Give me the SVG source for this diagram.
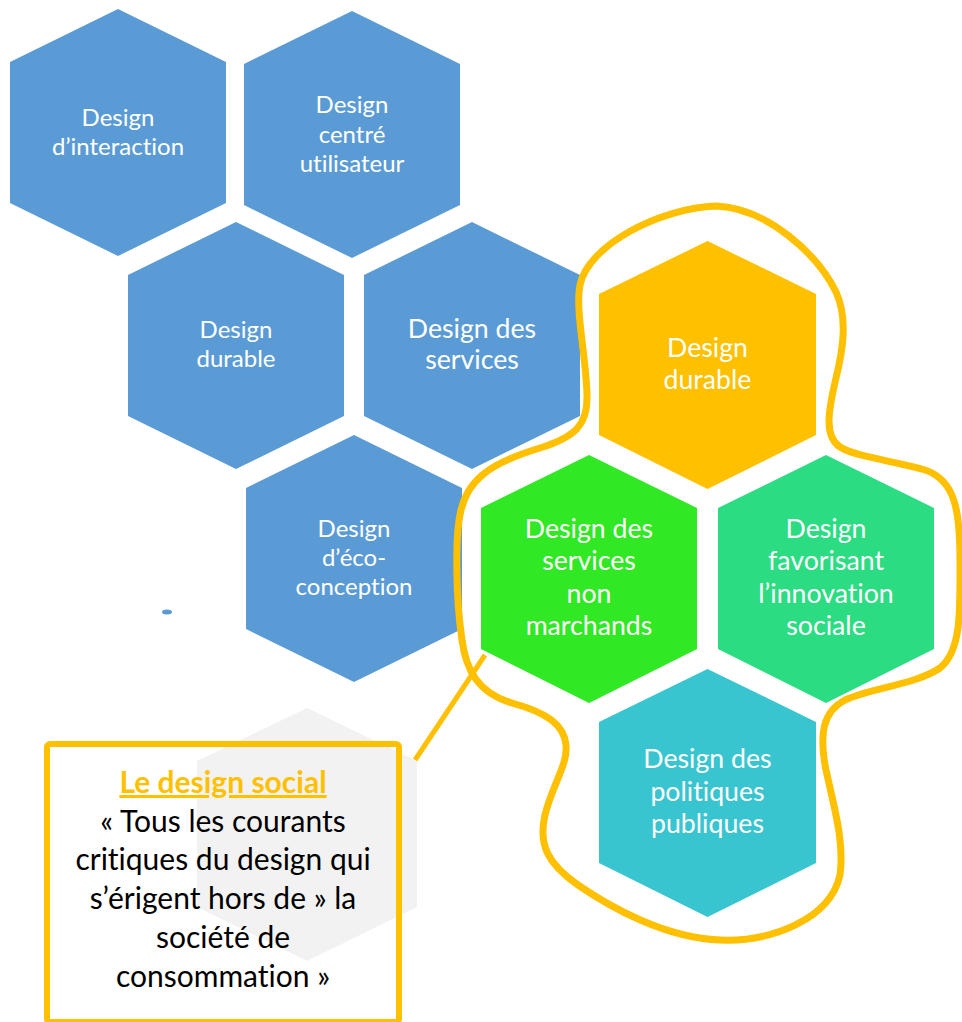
<svg xmlns="http://www.w3.org/2000/svg" width="962" height="1022" viewBox="0 0 962 1022">
<style>
.hb{fill:#5B9BD5}
text{font-variant-ligatures:none;font-feature-settings:"liga" 0,"clig" 0}
.t{font-family:Lato,"Liberation Sans",sans-serif;fill:#ffffff;text-anchor:middle}
.s{font-size:24px}
.l{font-size:26.7px}
.bx{font-family:Lato,"Liberation Sans",sans-serif;font-size:30px;fill:#000000;text-anchor:middle}
</style>
<rect width="962" height="1022" fill="#ffffff"/>
<g id="n-interaction">
<polygon class="hb" points="118,9 226,62 226,203 118,256 10,203 10,62"/>
<text class="t s" x="118" y="126">Design</text>
<text class="t s" x="118" y="155">d’interaction</text>
</g>
<g id="n-utilisateur">
<polygon class="hb" points="352,11 460,64 460,205 352,258 244,205 244,64"/>
<text class="t s" x="352" y="113">Design</text>
<text class="t s" x="352" y="143">centré</text>
<text class="t s" x="352" y="172">utilisateur</text>
</g>
<g id="n-durable-blue">
<polygon class="hb" points="236,222 344,275 344,416 236,469 128,416 128,275"/>
<text class="t s" x="236" y="338">Design</text>
<text class="t s" x="236" y="367">durable</text>
</g>
<g id="n-services">
<polygon class="hb" points="472,222 580,275 580,416 472,469 364,416 364,275"/>
<text class="t l" x="472" y="338">Design des</text>
<text class="t l" x="472" y="369">services</text>
</g>
<g id="n-eco">
<polygon class="hb" points="354,435 462,488 462,629 354,682 246,629 246,488"/>
<text class="t s" x="354" y="537">Design</text>
<text class="t s" x="354" y="566">d’éco-</text>
<text class="t s" x="354" y="595">conception</text>
</g>
<ellipse id="dot" cx="167" cy="612" rx="5" ry="2.5" fill="#5B9BD5"/>
<g id="n-durable-orange">
<polygon fill="#FFC000" points="707.5,241 816,294 816,435 707.5,489 599,435 599,294"/>
<text class="t l" x="707.5" y="357">Design</text>
<text class="t l" x="707.5" y="389">durable</text>
</g>
<g id="n-non-marchands">
<polygon fill="#30E823" points="589,455 697,508 697,649 589,703 481,649 481,508"/>
<text class="t l" x="589" y="538">Design des</text>
<text class="t l" x="589" y="570">services</text>
<text class="t l" x="589" y="603">non</text>
<text class="t l" x="589" y="635">marchands</text>
</g>
<g id="n-innovation">
<polygon fill="#2BDC82" points="826,455 934,508 934,649 826,703 718,649 718,508"/>
<text class="t l" x="826" y="538">Design</text>
<text class="t l" x="826" y="570">favorisant</text>
<text class="t l" x="826" y="603">l’innovation</text>
<text class="t l" x="826" y="635">sociale</text>
</g>
<g id="n-politiques">
<polygon fill="#39C5CF" points="707.5,669 816,722 816,863 707.5,917 599,863 599,722"/>
<text class="t l" x="707.5" y="768">Design des</text>
<text class="t l" x="707.5" y="801">politiques</text>
<text class="t l" x="707.5" y="833">publiques</text>
</g>
<g id="connectors" fill="none" stroke="#FFC000">
<path stroke-width="7" d="M716,206 C768,208 818,255 836,292 C848,318 843,350 836,378 C828,412 824,436 840,447 C855,457 900,462 925,470 C955,480 960,510 960,560 C960,610 962,650 940,668 C915,685 870,688 845,700 C822,712 820,735 825,765 C832,800 845,840 840,875 C830,920 770,942 720,940 C665,938 610,907 578,885 C548,864 538,845 545,815 C552,785 568,765 566,745 C564,725 548,713 512,703 C478,693 466,670 462,640 C456,600 455,540 460,515 C466,480 490,463 540,448 C575,437 588,425 587,395 C586,355 575,310 580,285 C588,245 660,208 716,206 Z"/>
<line x1="485" y1="655" x2="415" y2="760" stroke-width="5"/>
</g>
<g id="n-design-social">
<polygon fill="#F2F2F2" points="307,708 417,761 417,907 307,961 197,907 197,761"/>
<rect x="47" y="744" width="352" height="278" rx="3" fill="none" stroke="#FFC000" stroke-width="6"/>
<text class="bx" x="223" y="793" font-weight="bold" style="fill:#FFC000" text-decoration="underline">Le design social</text>
<text class="bx" x="223" y="832">« Tous les courants</text>
<text class="bx" x="223" y="870">critiques du design qui</text>
<text class="bx" x="223" y="909">s’érigent hors de » la</text>
<text class="bx" x="223" y="948">société de</text>
<text class="bx" x="223" y="987">consommation »</text>
</g>
</svg>
